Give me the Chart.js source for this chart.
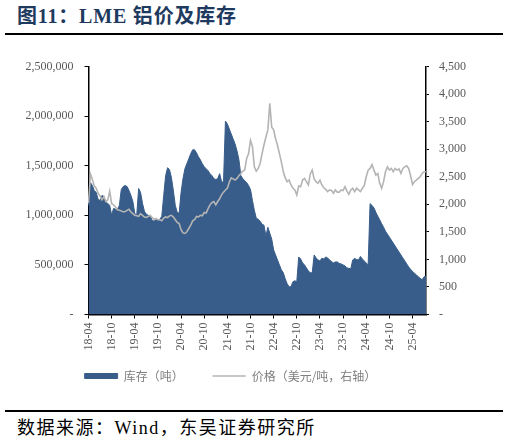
<!DOCTYPE html>
<html>
<head>
<meta charset="utf-8">
<script src="https://cdn.jsdelivr.net/npm/chart.js@4.4.1/dist/chart.umd.min.js"></script>
<style>
  html, body { margin:0; padding:0; background:#fff; }
  body { width:509px; height:444px; position:relative; overflow:hidden; }
  #title { position:absolute; left:17px; top:3px; font-family:"Liberation Serif","Noto Sans CJK SC",serif; font-weight:bold; font-size:20px; line-height:26px; color:#1F3A5F; white-space:nowrap; letter-spacing:0.8px; }
  .rule { position:absolute; left:5px; width:498px; height:2.5px; background:#000; }
  #footer { position:absolute; left:17px; top:417px; font-family:"Liberation Serif","Noto Sans CJK SC",serif; font-size:18px; line-height:22px; color:#000; white-space:nowrap; letter-spacing:1.5px; }
  #wrap { position:absolute; left:0; top:40px; width:509px; height:366px; }
</style>
</head>
<body>
<div id="title">图11：LME 铝价及库存</div>
<div class="rule" style="top:32.5px"></div>
<div id="wrap"><canvas id="c" width="509" height="366"></canvas></div>
<div class="rule" style="top:409.5px"></div>
<div id="footer">数据来源：Wind，东吴证券研究所</div>
<script>
// Semi-monthly observations, first half of Apr 2018 through second half of Jul 2025
const tickLabels = ['18-04','18-10','19-04','19-10','20-04','20-10','21-04','21-10','22-04','22-10','23-04','23-10','24-04','24-10','25-04'];

// LME aluminium inventory (tonnes)
const inventory = [
  1100000,1330000,1300000,1250000,1230000,1160000,1150000,1200000,1190000,1130000,1120000,1100000,
  1000000,1070000,1060000,1060000,1100000,1260000,1290000,1300000,1290000,1250000,1200000,1140000,
  1020000,1000000,1270000,1230000,1120000,1040000,1010000,1000000,990000,950000,940000,960000,
  950000,960000,990000,1200000,1400000,1480000,1460000,1380000,1250000,1100000,1030000,1020000,
  1230000,1370000,1470000,1520000,1570000,1620000,1660000,1660000,1630000,1590000,1560000,1520000,
  1490000,1470000,1450000,1420000,1400000,1370000,1360000,1370000,1420000,1340000,1330000,1950000,
  1920000,1870000,1820000,1770000,1720000,1650000,1560000,1400000,1370000,1350000,1330000,1300000,
  1260000,1150000,1050000,970000,960000,940000,910000,900000,790000,880000,820000,760000,
  650000,600000,550000,500000,450000,420000,360000,310000,280000,280000,330000,340000,
  330000,580000,560000,520000,500000,470000,440000,420000,420000,600000,570000,550000,
  540000,567000,560000,580000,570000,550000,535000,520000,530000,530000,515000,510000,
  500000,490000,470000,465000,460000,550000,565000,555000,550000,585000,560000,540000,
  520000,500000,1117000,1100000,1075000,1030000,990000,955000,915000,880000,840000,810000,
  780000,750000,720000,690000,660000,630000,600000,570000,540000,510000,480000,455000,
  435000,415000,400000,380000,365000,350000,380000,385000
];

// LME aluminium price (USD/t, right axis)
const price = [
  2020,2550,2450,2330,2290,2200,2150,2080,2140,2050,2080,2240,
  2010,1990,1950,1900,1890,1880,1860,1870,1890,1910,1860,1830,
  1800,1790,1780,1830,1800,1770,1760,1780,1800,1760,1730,1740,
  1720,1720,1700,1750,1770,1760,1790,1800,1770,1720,1670,1650,
  1540,1480,1470,1500,1560,1620,1700,1720,1780,1770,1800,1790,
  1850,1840,1920,1990,2030,2050,1990,2050,2100,2170,2220,2260,
  2290,2400,2480,2460,2440,2470,2520,2560,2600,2620,2830,2920,
  3160,3050,2680,2600,2650,2740,2920,3080,3220,3350,3830,3400,
  3350,3190,3070,2920,2770,2590,2480,2410,2440,2350,2290,2260,
  2170,2330,2320,2440,2470,2410,2350,2550,2620,2460,2410,2380,
  2440,2350,2300,2270,2230,2260,2250,2200,2260,2220,2220,2260,
  2250,2320,2240,2180,2260,2290,2230,2290,2260,2230,2290,2340,
  2500,2620,2650,2720,2620,2530,2560,2380,2290,2410,2590,2680,
  2620,2650,2590,2650,2620,2640,2560,2650,2680,2700,2650,2520,
  2360,2410,2440,2470,2500,2560,2590,2590
];

const seriesNames = ['库存（吨）', '价格（美元/吨，右轴）'];

// category labels: one per half month
const periods = inventory.map((_, i) => {
  const m = 3 + Math.floor(i / 2);
  const y = 18 + Math.floor(m / 12);
  const mm = (m % 12) + 1;
  return y + '-' + String(mm).padStart(2, '0') + (i % 2 ? 'b' : 'a');
});

const tickFont = { family: "'Liberation Serif','Times New Roman',serif", size: 12 };
const tickColor = '#595959';

// small layout nudge for the legend block (position only)
const legendNudge = {
  id: 'legendNudge',
  afterLayout(chart) {
    const lg = chart.legend;
    if (!lg) return;
    const dx = 24, dy = 10.5;
    lg.left -= dx; lg.right -= dx;
    lg.top -= dy; lg.bottom -= dy;
  }
};

new Chart(document.getElementById('c'), {
  type: 'line',
  data: {
    labels: periods,
    datasets: [
      {
        label: seriesNames[0],
        data: inventory,
        yAxisID: 'y',
        fill: 'origin',
        backgroundColor: '#385D8A',
        borderColor: '#385D8A',
        borderWidth: 1,
        pointRadius: 0,
        pointStyle: 'rect',
        tension: 0,
        order: 1
      },
      {
        label: seriesNames[1],
        data: price,
        yAxisID: 'y1',
        fill: false,
        borderColor: '#B4B4B4',
        backgroundColor: '#B4B4B4',
        borderWidth: 1.6,
        pointRadius: 0,
        pointStyle: 'line',
        tension: 0,
        order: 0
      }
    ]
  },
  plugins: [legendNudge],
  options: {
    responsive: false,
    animation: false,
    events: [],
    layout: { padding: { top: 26.5, bottom: 3.5, left: 0, right: 0 } },
    plugins: {
      tooltip: { enabled: false },
      legend: {
        position: 'bottom',
        labels: {
          usePointStyle: true,
          pointStyleWidth: 33,
          boxHeight: 5,
          padding: 29,
          color: '#7F7F7F',
          font: { family: "'Noto Sans CJK SC',sans-serif", size: 12 },
          sort: (a, b) => a.datasetIndex - b.datasetIndex
        }
      }
    },
    scales: {
      x: {
        type: 'category',
        offset: false,
        border: { display: true, color: '#000', width: 1.5 },
        grid: { display: true, drawOnChartArea: false, drawTicks: true, tickLength: 4, color: '#000', lineWidth: 1 },
        ticks: {
          autoSkip: false,
          minRotation: 90,
          maxRotation: 90,
          padding: 4,
          font: tickFont,
          color: tickColor,
          callback: (v, i) => (i % 12 === 0 ? tickLabels[i / 12] : null)
        },
        afterFit: s => { s.height = 37; }
      },
      y: {
        position: 'left',
        min: 0,
        max: 2500000,
        border: { display: true, color: '#000', width: 1.5 },
        grid: { drawOnChartArea: false, drawTicks: true, tickLength: 4, color: '#000' },
        ticks: {
          stepSize: 500000,
          padding: 11,
          font: tickFont,
          color: tickColor,
          callback: v => (v === 0 ? '-' : v.toLocaleString('en-US'))
        },
        afterFit: s => { s.width = 88.5; }
      },
      y1: {
        position: 'right',
        min: 0,
        max: 4500,
        border: { display: true, color: '#000', width: 1.5 },
        grid: { drawOnChartArea: false, drawTicks: true, tickLength: 3, color: '#000' },
        ticks: {
          stepSize: 500,
          padding: 10,
          font: tickFont,
          color: tickColor,
          callback: v => (v === 0 ? '-' : v.toLocaleString('en-US'))
        },
        afterFit: s => { s.width = 83; }
      }
    }
  }
});
</script>
</body>
</html>
